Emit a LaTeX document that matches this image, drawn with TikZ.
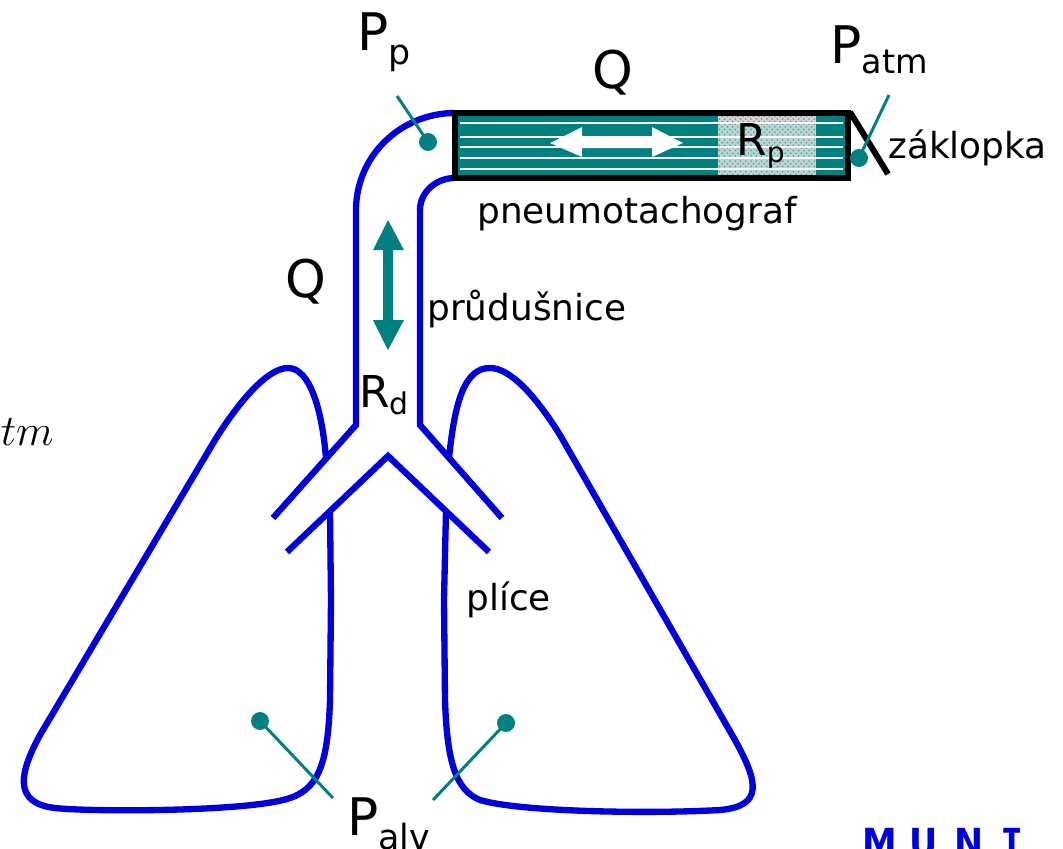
\documentclass[tikz,border=0pt]{standalone}
\usepackage{fontspec}
\setmainfont{DejaVu Sans}
\newfontfamily\logofont{DejaVu Sans Condensed Bold}
\newfontfamily\logomono{DejaVu Sans Mono Bold}
\usetikzlibrary{patterns}
\definecolor{lungblue}{HTML}{0000DC}
\definecolor{probeteal}{HTML}{008080}
% label with a lowered subscript: base, subscript, drop, subscript size
\newcommand\lowsub[4]{#1\raisebox{-#3}{\fontsize{#4}{#4}\selectfont #2}}
\begin{document}
\begin{tikzpicture}[x=0.02cm,y=-0.02cm,
  airway/.style={draw=lungblue,line width=3.6pt},
  probeline/.style={draw=probeteal,line width=1.7pt},
  probedot/.style={circle,fill=probeteal,inner sep=0pt,minimum size=10.2pt},
  lbl/.style={inner sep=0pt,anchor=base west,font=\fontsize{20.4pt}{24pt}\selectfont},
  bigl/.style={inner sep=0pt,anchor=base west,font=\fontsize{29.5pt}{34pt}\selectfont},
  midl/.style={inner sep=0pt,anchor=base west,font=\fontsize{25pt}{30pt}\selectfont},
  logo/.style={inner sep=0pt,anchor=base west,text=lungblue,font=\fontsize{22pt}{26pt}\logofont}]
\useasboundingbox (0,0) rectangle (1063,849);

% trachea with its bend towards the pneumotachograph
\draw[airway] (455,113) .. controls (400.3,113) and (356,156.4) .. (356,210)
  -- (356,425) -- (273,518);
\draw[airway] (455,178) .. controls (435.7,178) and (420,192.3) .. (420,210)
  -- (420,425) -- (502,518);
% inner walls of the main bronchi
\draw[airway] (287,552) -- (388,456) -- (489,552);

% left lung
\draw[airway] (326,458) .. controls (322,410) and (310,368) .. (288,368)
  .. controls (268,368) and (240,400) .. (215,440)
  -- (40,735) .. controls (20,772) and (12,803) .. (55,808)
  .. controls (90,812) and (250,812) .. (290,798)
  .. controls (320,788) and (328,760) .. (330,700)
  -- (331,600) -- (330,511);
% right lung
\draw[airway] (449,458) .. controls (455,400) and (465,368) .. (490,368)
  .. controls (510,368) and (535,395) .. (560,435)
  -- (735,740) .. controls (758,782) and (764,806) .. (720,810)
  .. controls (650,814) and (520,812) .. (480,800)
  .. controls (455,790) and (447,760) .. (445,700)
  -- (444,600) -- (446,511);

% pneumotachograph body
\fill[probeteal] (455,113) rectangle (848,178);
\fill[probeteal!30!white] (718,116) rectangle (816,176);
\fill[gray!35] (718,116) rectangle (816,122);
\fill[pattern=crosshatch dots,pattern color=gray] (718,116) rectangle (816,176);
\foreach \yy in {123.3,136.7,147.3,158,168.7}
  \draw[white,line width=1pt] (460,\yy) -- (843,\yy);
% flow arrow inside the tube
\fill[white] (550,143) -- (582,127) -- (582,137) -- (652,137) -- (652,127)
  -- (683,143) -- (652,157) -- (652,148) -- (582,148) -- (582,157) -- cycle;
\draw[black,line width=3.4pt] (455,113) rectangle (848,178);
% valve flap
\coordinate (flapTop) at (850,112);
\coordinate (flapEnd) at (888,174);
\draw[black,line width=3.4pt] (flapTop) -- (flapEnd);

% flow arrow in the trachea
\fill[probeteal] (388,220) -- (404,250) -- (393,250) -- (393,320) -- (404,320)
  -- (388,350) -- (373,320) -- (383,320) -- (383,250) -- (373,250) -- cycle;

% pressure probes
\node[probedot] (dotP) at (428,142) {};
\node[probedot] (dotAtm) at (859,158) {};
\node[probedot] (dotAlvL) at (260,721) {};
\node[probedot] (dotAlvR) at (506,723) {};
\coordinate (tailP) at (397,96);
\coordinate (tailAtm) at (889,95);
\coordinate (tailAlvL) at (333,798);
\coordinate (tailAlvR) at (433,800);
\draw[probeline] (tailP) -- (dotP.center);
\draw[probeline] (tailAtm) -- (dotAtm.center);
\draw[probeline] (tailAlvL) -- (dotAlvL.center);
\draw[probeline] (tailAlvR) -- (dotAlvR.center);

% labels
\node[bigl] (labPp) at (357,50) {\lowsub{P}{p}{8.5pt}{19.8pt}};
\node[bigl] (labQtop) at (592,88) {Q};
\node[bigl] (labPatm) at (830,63) {\lowsub{P}{atm}{5.7pt}{19pt}};
\node[bigl] (labQleft) at (285,297) {Q};
\node[bigl] (labPalv) at (347,835) {\lowsub{P}{alv}{8.5pt}{19.8pt}};
\node[midl] (labRp) at (736,155) {\lowsub{R}{p}{4.5pt}{16pt}};
\node[midl] (labRd) at (359,407) {\lowsub{R}{d}{4.5pt}{17pt}};
\node[lbl] (labValve) at (888,158) {záklopka};
\node[lbl] (labPnt) at (477,223) {pneumotachograf};
\node[lbl] (labTrachea) at (427,320) {průdušnice};
\node[lbl] (labLung) at (466,610) {plíce};
\node[inner sep=0pt,anchor=base east,font=\fontsize{24pt}{28pt}\selectfont] (labAtm) at (54,445) {$atm$};

% university mark
\node[logo] (muniM) at (862,856) {M};
\node[logo] (muniU) at (909,856) {U};
\node[logo] (muniN) at (954,856) {N};
\node[logo,font=\fontsize{22pt}{26pt}\logomono] (muniI) at (1000,856) {I};
\end{tikzpicture}
\end{document}
